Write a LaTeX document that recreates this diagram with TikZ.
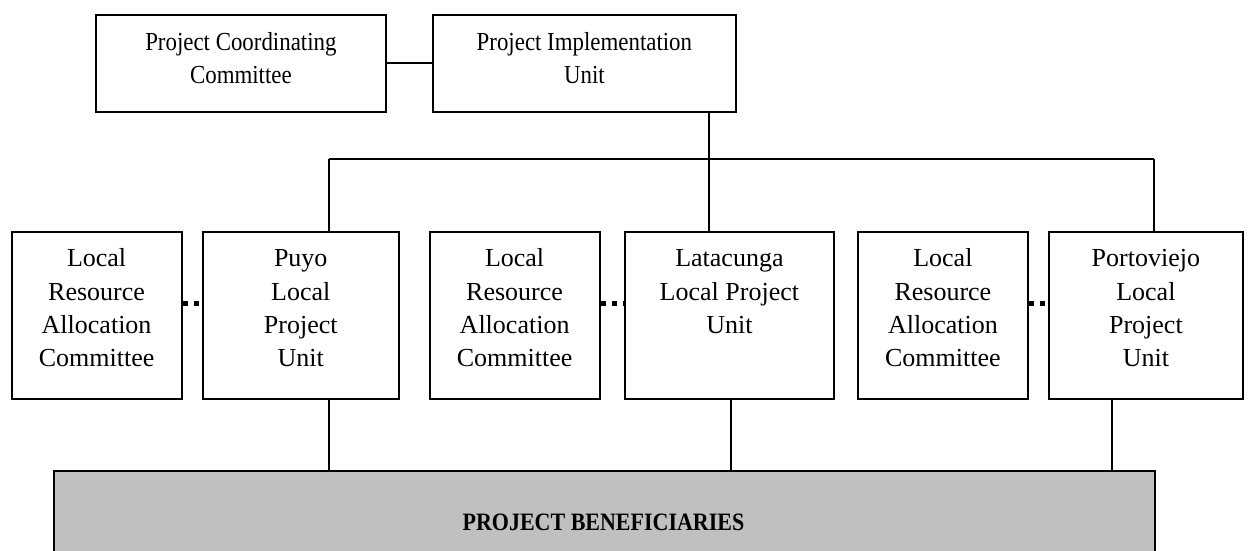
\documentclass[tikz,border=0pt]{standalone}
\usepackage{fontspec}
\setmainfont{Liberation Serif}
\newfontfamily\narrowserif{Liberation Serif}[FakeStretch=0.88]
\begin{document}
\begin{tikzpicture}[x=1pt,y=-1pt,
  box/.style={draw, line width=1.8pt, inner sep=0pt, anchor=north west},
  boxtext/.style={anchor=north, align=center, inner sep=0pt,
    font=\fontsize{26}{33.3}\selectfont},
  toptext/.style={boxtext, font=\narrowserif\fontsize{26}{33}\selectfont},
  link/.style={line width=1.8pt},
  dotlink/.style={line width=5pt, dash pattern=on 5pt off 6pt, line cap=butt}]
\useasboundingbox (0,0) rectangle (1248,551);

% top level
\node[box, minimum width=290pt, minimum height=97pt] (pcc) at (95,14) {};
\node[box, minimum width=303pt, minimum height=97pt] (piu) at (432,14) {};
\node[toptext] (pcct) at (pcc.center |- 0,27.7) {\strut Project Coordinating\\Committee};
\node[toptext] (piut) at (piu.center |- 0,27.7) {\strut Project Implementation\\Unit};

% local level
\node[box, minimum width=170pt, minimum height=167pt] (lrac1) at (10.7,231) {};
\node[box, minimum width=196.3pt, minimum height=167pt] (puyo) at (201.7,231) {};
\node[box, minimum width=170pt, minimum height=167pt] (lrac2) at (428.7,231) {};
\node[box, minimum width=209pt, minimum height=167pt] (lat) at (624,231) {};
\node[box, minimum width=170pt, minimum height=167pt] (lrac3) at (857,231) {};
\node[box, minimum width=194pt, minimum height=167pt] (port) at (1048,231) {};

\coordinate (txtrow) at (0,243.4);
\node[boxtext] (lrac1t) at (lrac1.center |- txtrow) {\strut Local\\Resource\\Allocation\\Committee};
\node[boxtext] (puyot) at (puyo.center |- txtrow) {\strut Puyo\\Local\\Project\\Unit};
\node[boxtext] (lrac2t) at (lrac2.center |- txtrow) {\strut Local\\Resource\\Allocation\\Committee};
\node[boxtext] (latt) at (lat.center |- txtrow) {\strut Latacunga\\Local Project\\Unit};
\node[boxtext] (lrac3t) at (lrac3.center |- txtrow) {\strut Local\\Resource\\Allocation\\Committee};
\node[boxtext] (portt) at (port.center |- txtrow) {\strut Portoviejo\\Local\\Project\\Unit};

% beneficiaries
\node[box, fill={rgb,255:red,192;green,192;blue,192}, minimum width=1101pt, minimum height=90pt] (ben) at (53,470) {};
\node[anchor=base, inner sep=0pt, font=\narrowserif\fontsize{25}{28}\selectfont\bfseries] (bent) at (603.5,530) {PROJECT BENEFICIARIES};

% connectors
\draw[link] (pcc.east) -- (piu.west);
\coordinate (busL) at (328.7,159);
\coordinate (busM) at (709,159);
\coordinate (busR) at (1154,159);
\draw[link] (piu.south -| busM) -- (busM);
\draw[link] (busL) -- (busR);
\draw[link] (busL) -- (puyo.north -| busL);
\draw[link] (busM) -- (lat.north -| busM);
\draw[link] (busR) -- (port.north -| busR);

\coordinate (dn1) at (328.7,0);
\coordinate (dn2) at (730.7,0);
\coordinate (dn3) at (1111.7,0);
\draw[link] (puyo.south -| dn1) -- (ben.north -| dn1);
\draw[link] (lat.south -| dn2) -- (ben.north -| dn2);
\draw[link] (port.south -| dn3) -- (ben.north -| dn3);

\coordinate (dotrow) at (0,303);
\draw[dotlink] (lrac1.east |- dotrow) -- (puyo.west |- dotrow);
\draw[dotlink] (lrac2.east |- dotrow) -- (lat.west |- dotrow);
\draw[dotlink] (lrac3.east |- dotrow) -- (port.west |- dotrow);
\end{tikzpicture}
\end{document}
